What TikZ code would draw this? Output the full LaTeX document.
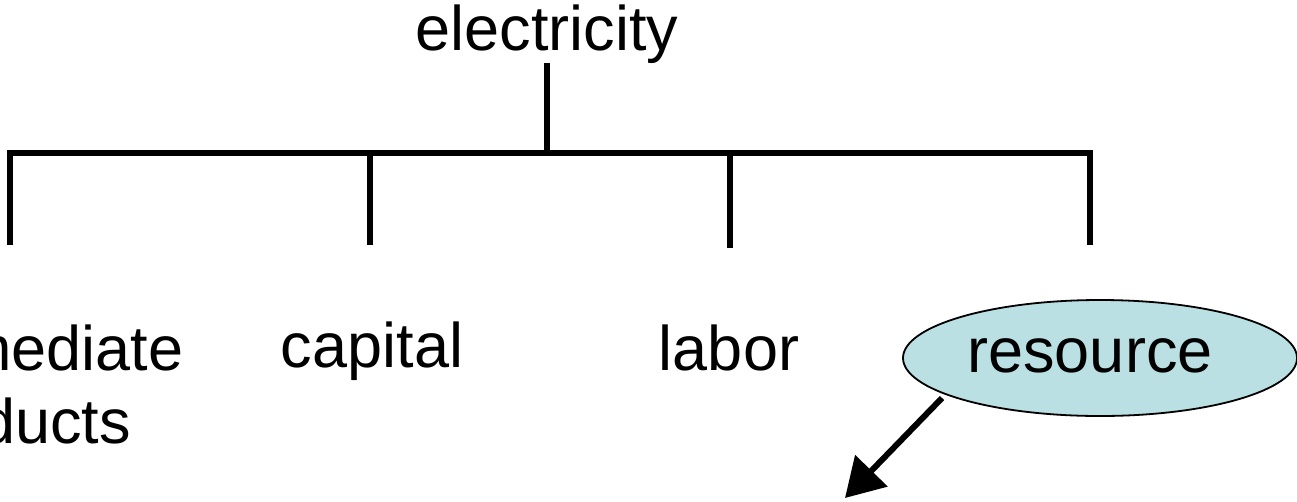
\documentclass[tikz,border=0pt]{standalone}
\usepackage{fontspec}
\setmainfont{Liberation Sans}
\usetikzlibrary{arrows.meta,shapes.geometric}
\definecolor{resfill}{RGB}{186,224,227}
\begin{document}
\begin{tikzpicture}[x=1pt,y=-1pt,
  lbl/.style={font=\fontsize{63}{73}\selectfont, anchor=base, inner sep=0pt},
  tree/.style={line width=6.5pt},
  res/.style={ellipse, draw=black, line width=1.8pt, fill=resfill, minimum width=394pt, minimum height=116pt, inner sep=0pt}]
\useasboundingbox (0,0) rectangle (1297,501);
% labels
\node[lbl] (elec) at (547,50) {electricity};
\node[lbl, align=center] (inter) at (10,443) {intermediate\\products};
\node[lbl] (cap) at (372,367) {capital};
\node[lbl] (lab) at (729,370) {labor};
\node[res] (res) at (1100,358) {};
\node[lbl] at (1090,372) {resource};
% tree
\coordinate (stemtop) at (547,63);
\coordinate (hub) at (547,153);
\coordinate (b1) at (10,153);
\coordinate (b2) at (370,153);
\coordinate (b3) at (730,153);
\coordinate (b4) at (1090,153);
\coordinate (e1) at (10,245);
\coordinate (e2) at (370,245);
\coordinate (e3) at (730,248);
\coordinate (e4) at (1090,245);
\draw[tree] (stemtop) -- (hub);
\draw[tree] ([xshift=-3pt]b1) -- ([xshift=3pt]b4);
\draw[tree] (b1) -- (e1);
\draw[tree] (b2) -- (e2);
\draw[tree] (b3) -- (e3);
\draw[tree] (b4) -- (e4);
% arrow
\coordinate (arrowend) at (845,498);
\draw[line width=6pt, -{Triangle[length=38pt,width=44pt]}] (942,398) -- (arrowend);
\end{tikzpicture}
\end{document}
